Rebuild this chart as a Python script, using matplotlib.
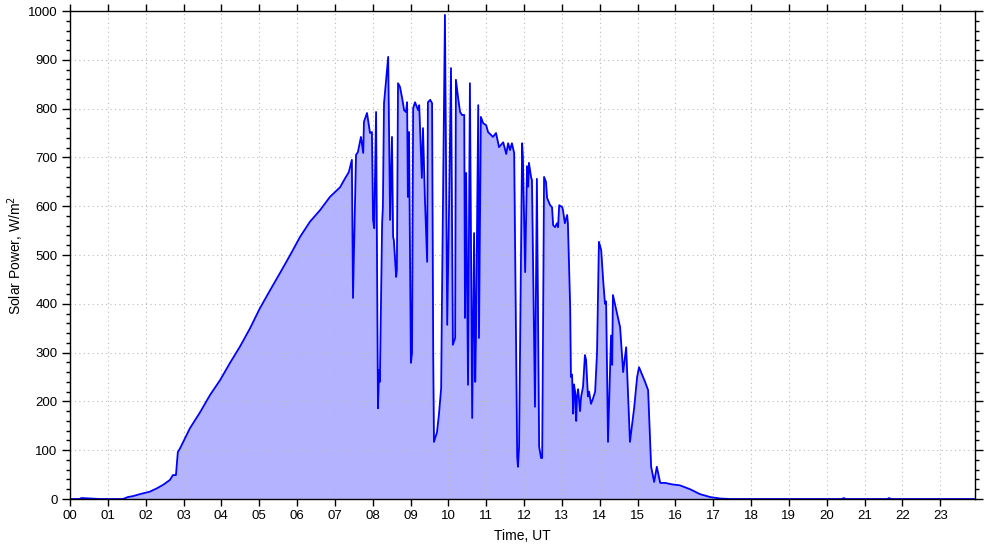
import matplotlib
matplotlib.use("Agg")
import matplotlib.pyplot as plt
from matplotlib.ticker import MultipleLocator

# time (hours UT) and solar power (W/m^2)
time_h = [0.00, 0.25, 0.30, 0.79, 1.40, 1.53, 1.67, 1.85, 2.11, 2.30, 2.46, 2.64,
          2.72, 2.80, 2.85, 2.91, 3.17, 3.44, 3.70, 3.97, 4.23, 4.49, 4.76, 5.02,
          5.29, 5.55, 5.82, 6.08, 6.34, 6.61, 6.87, 7.14, 7.27, 7.37, 7.45, 7.48,
          7.56, 7.61, 7.69, 7.75, 7.77, 7.85, 7.93, 7.98, 8.01, 8.04, 8.09, 8.14,
          8.17, 8.19, 8.25, 8.27, 8.30, 8.41, 8.46, 8.51, 8.54, 8.56, 8.62, 8.64,
          8.67, 8.72, 8.78, 8.83, 8.88, 8.91, 8.93, 8.96, 9.01, 9.04, 9.07, 9.12,
          9.20, 9.23, 9.30, 9.33, 9.38, 9.44, 9.46, 9.52, 9.57, 9.60, 9.62, 9.70,
          9.75, 9.81, 9.83, 9.91, 9.97, 10.02, 10.07, 10.10, 10.12, 10.18, 10.20,
          10.26, 10.31, 10.36, 10.42, 10.44, 10.47, 10.52, 10.57, 10.63, 10.68,
          10.71, 10.73, 10.79, 10.81, 10.86, 10.92, 11.00, 11.05, 11.13, 11.18,
          11.26, 11.34, 11.45, 11.53, 11.58, 11.63, 11.68, 11.74, 11.82, 11.84,
          11.87, 11.95, 11.97, 12.03, 12.08, 12.11, 12.13, 12.19, 12.21, 12.29,
          12.34, 12.40, 12.45, 12.48, 12.53, 12.58, 12.61, 12.69, 12.74, 12.77,
          12.82, 12.87, 12.90, 12.93, 13.01, 13.03, 13.08, 13.14, 13.16, 13.22,
          13.24, 13.27, 13.30, 13.32, 13.35, 13.38, 13.40, 13.43, 13.48, 13.51,
          13.56, 13.61, 13.64, 13.69, 13.72, 13.77, 13.82, 13.88, 13.93, 13.98,
          14.04, 14.09, 14.14, 14.17, 14.22, 14.30, 14.33, 14.35, 14.43, 14.54,
          14.62, 14.70, 14.80, 14.91, 14.99, 15.04, 15.12, 15.20, 15.28, 15.36,
          15.44, 15.51, 15.60, 15.73, 15.91, 16.12, 16.39, 16.65, 16.92, 17.18,
          17.45, 20.40, 20.45, 20.50, 21.60, 21.65, 21.70, 23.92]
power = [0, 0, 2, 0, 0, 4, 6, 10, 15, 22, 29, 39,
         49, 49, 96, 104, 145, 178, 213, 244, 279, 312, 350, 391,
         428, 463, 500, 537, 568, 592, 619, 639, 657, 670, 695, 412,
         705, 711, 742, 709, 773, 791, 750, 752, 572, 555, 793, 186,
         264, 240, 566, 598, 811, 906, 572, 742, 537, 530, 455, 469,
         852, 845, 821, 797, 793, 813, 619, 752, 279, 299, 801, 813,
         797, 807, 658, 760, 617, 486, 813, 818, 811, 295, 117, 137,
         172, 227, 397, 992, 357, 602, 883, 535, 316, 330, 859,
         821, 793, 787, 787, 371, 668, 234, 852, 166, 545,
         240, 330, 807, 330, 783, 770, 766, 752, 746, 742,
         750, 721, 731, 707, 729, 715, 729, 709, 86, 66,
         107, 729, 701, 465, 682, 640, 689, 658, 654, 189,
         656, 107, 84, 84, 660, 650, 617, 602, 598, 561,
         557, 565, 557, 602, 598, 592, 565, 582, 565, 393,
         250, 255, 175, 235, 220, 160, 210, 225, 180, 210,
         230, 295, 285, 210, 220, 195, 205, 220, 300, 527,
         510, 450, 400, 405, 117, 335, 275, 418, 390, 352,
         260, 311, 117, 186, 250, 270, 255, 240, 223, 66,
         35, 66, 33, 33, 30, 28, 20, 10, 4, 1,
         0, 0, 2, 0, 0, 2, 0, 0]

hour_labels = ["%02d" % h for h in range(24)]

plt.rcParams['font.family'] = ['Liberation Sans', 'DejaVu Sans']

fig = plt.figure(figsize=(9.85, 5.47), dpi=100)
ax = fig.add_axes([70/985, 1 - 499/547, (975 - 70)/985, (499 - 11)/547])

ax.fill_between(time_h, power, 0, color='#b3b3ff', linewidth=0, zorder=1)
ax.plot(time_h, power, color='#0000ff', linewidth=1.3, zorder=3)

ax.set_xlim(0, 23.92)
ax.set_ylim(0, 1000)
ax.set_xticks(range(24))
ax.set_xticklabels(hour_labels)
ax.yaxis.set_major_locator(MultipleLocator(100))
ax.yaxis.set_minor_locator(MultipleLocator(20))

ax.tick_params(axis='x', which='major', direction='out', length=5, width=1,
               top=True, bottom=True, labeltop=False, labelsize=9.5, pad=3)
ax.tick_params(axis='y', which='major', direction='out', length=6, width=1,
               left=True, right=True, labelright=False, labelsize=9.5, pad=3)
ax.tick_params(axis='y', which='minor', direction='out', length=3, width=1,
               left=True, right=True)

ax.set_axisbelow(False)
ax.grid(True, which='major', linestyle=(0, (1, 3)), color='#bbbbbb', linewidth=0.8, zorder=2)

for s in ax.spines.values():
    s.set_linewidth(1)
    s.set_zorder(4)

ax.set_xlabel('Time, UT', fontsize=10, labelpad=5)
ax.set_ylabel('Solar Power, W/m$^2$', fontsize=10, labelpad=1)

fig.savefig('out.png', dpi=100)
